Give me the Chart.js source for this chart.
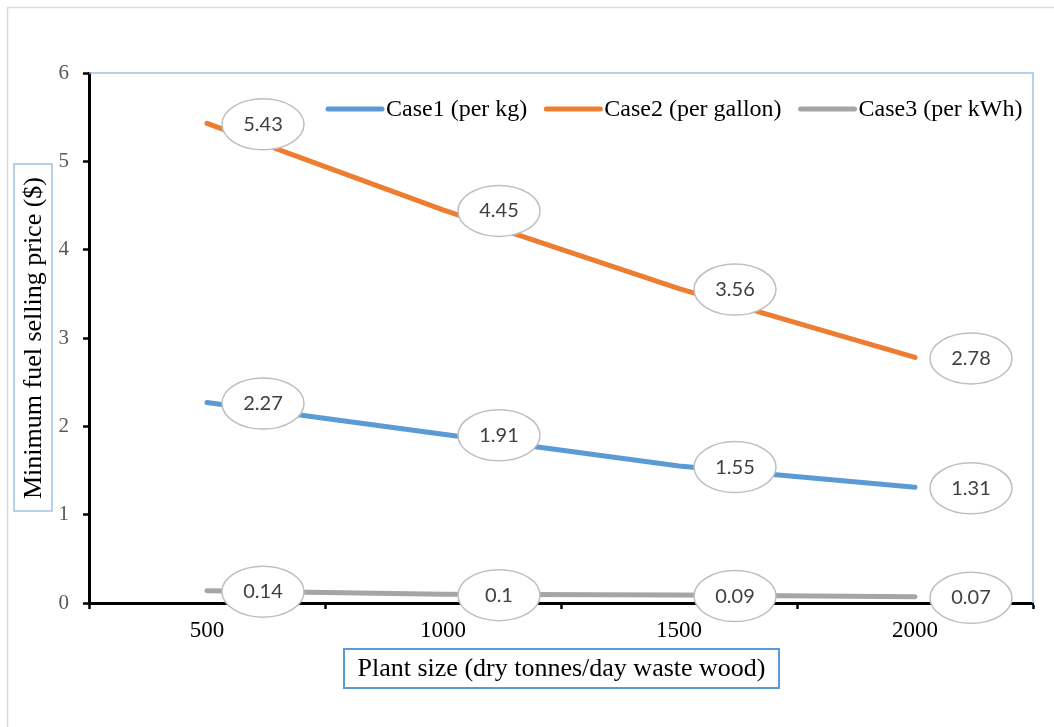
<!DOCTYPE html>
<html>
<head>
<meta charset="utf-8">
<style>
  html, body { margin: 0; padding: 0; background: #ffffff; }
  #wrap { width: 1054px; height: 727px; }
</style>
<script src="https://cdn.jsdelivr.net/npm/chart.js@4.4.1/dist/chart.umd.min.js"></script>
</head>
<body>
<div id="wrap"><canvas id="c" width="1054" height="727"></canvas></div>
<script>
// Plant sizes (dry tonnes/day) and minimum fuel selling prices ($)
const categories = ['500', '1000', '1500', '2000'];
const case1PerKg = [2.27, 1.91, 1.55, 1.31];
const case2PerGallon = [5.43, 4.45, 3.56, 2.78];
const case3PerKWh = [0.14, 0.1, 0.09, 0.07];
const seriesNames = ['Case1 (per kg)', 'Case2 (per gallon)', 'Case3 (per kWh)'];
const yMin = 0, yMax = 6, yStep = 1;
const xTitle = 'Plant size (dry tonnes/day waste wood)';
const yTitle = 'Minimum fuel selling price ($)';

const COLORS = ['#5b9bd5', '#ed7d31', '#a5a5a5'];
const SERIF = '"Liberation Serif", "Times New Roman", serif';
const LABEL_FONT = 'Lato, "Open Sans", sans-serif';

function lineDataset(label, data, color) {
  return {
    label, data,
    borderColor: color, backgroundColor: color,
    borderWidth: 5, borderCapStyle: 'round', borderJoinStyle: 'round',
    pointRadius: 0, pointHoverRadius: 0, tension: 0, fill: false
  };
}

// Frame, plot-area edges, ellipse value labels, legend and axis titles
const decor = {
  id: 'decor',
  beforeDraw(chart) {
    const ctx = chart.ctx;
    ctx.save();
    ctx.fillStyle = '#ffffff';
    ctx.fillRect(0, 0, chart.width, chart.height);
    ctx.strokeStyle = '#d9d9d9';
    ctx.lineWidth = 1.5;
    ctx.strokeRect(7.5, 7.5, chart.width + 20, chart.height + 20);
    ctx.restore();
  },
  beforeDatasetsDraw(chart) {
    const { ctx, chartArea: a } = chart;
    ctx.save();
    ctx.strokeStyle = '#9dc3e6';
    ctx.lineWidth = 1.5;
    ctx.beginPath();
    ctx.moveTo(a.left, a.top);
    ctx.lineTo(a.right, a.top);
    ctx.lineTo(a.right, a.bottom);
    ctx.stroke();
    ctx.restore();
  },
  afterDatasetsDraw(chart) {
    const ctx = chart.ctx;
    ctx.save();

    // value labels in ellipses, to the right of each point
    chart.data.datasets.forEach((ds, di) => {
      const meta = chart.getDatasetMeta(di);
      meta.data.forEach((pt, i) => {
        const cx = pt.x + 56, cy = pt.y + 1;
        ctx.beginPath();
        ctx.ellipse(cx, cy, 41, 25.5, 0, 0, Math.PI * 2);
        ctx.fillStyle = '#ffffff';
        ctx.fill();
        ctx.strokeStyle = '#bfbfbf';
        ctx.lineWidth = 1.5;
        ctx.stroke();
        ctx.fillStyle = '#404040';
        ctx.font = '20px ' + LABEL_FONT;
        ctx.textAlign = 'center';
        ctx.textBaseline = 'middle';
        ctx.fillText(String(ds.data[i]), cx, cy);
      });
    });

    // legend
    let x = 328;
    const ly = 109;
    ctx.font = '24px ' + SERIF;
    ctx.textBaseline = 'middle';
    ctx.textAlign = 'left';
    chart.data.datasets.forEach((ds) => {
      ctx.strokeStyle = ds.borderColor;
      ctx.lineWidth = 5;
      ctx.lineCap = 'round';
      ctx.beginPath();
      ctx.moveTo(x, ly);
      ctx.lineTo(x + 54, ly);
      ctx.stroke();
      ctx.fillStyle = '#000000';
      ctx.fillText(ds.label, x + 58, ly + 1);
      x += 58 + ctx.measureText(ds.label).width + 19;
    });

    // x-axis title in a box
    ctx.font = '26px ' + SERIF;
    ctx.textAlign = 'center';
    ctx.textBaseline = 'middle';
    ctx.strokeStyle = '#5b9bd5';
    ctx.lineWidth = 2;
    ctx.strokeRect(344, 649, 435, 39);
    ctx.fillStyle = '#000000';
    ctx.fillText(xTitle, 561.5, 669);

    // y-axis title in a box
    ctx.strokeStyle = '#9dc3e6';
    ctx.lineWidth = 1.5;
    ctx.strokeRect(14, 164, 38, 347);
    ctx.translate(34, 338);
    ctx.rotate(-Math.PI / 2);
    ctx.fillText(yTitle, 0, 0);
    ctx.restore();
  }
};

new Chart(document.getElementById('c'), {
  type: 'line',
  data: {
    labels: categories,
    datasets: [
      lineDataset(seriesNames[0], case1PerKg, COLORS[0]),
      lineDataset(seriesNames[1], case2PerGallon, COLORS[1]),
      lineDataset(seriesNames[2], case3PerKWh, COLORS[2])
    ]
  },
  options: {
    responsive: false,
    devicePixelRatio: 1,
    animation: false,
    layout: { padding: { top: 73, right: 21, left: 0, bottom: 0 } },
    plugins: { legend: { display: false }, tooltip: { enabled: false }, title: { display: false } },
    scales: {
      x: {
        type: 'category',
        offset: true,
        grid: { offset: true, drawOnChartArea: false, drawTicks: true, tickLength: 6, tickColor: '#000000', tickWidth: 2.5 },
        border: { display: true, color: '#000000', width: 3 },
        ticks: { color: '#000000', font: { family: SERIF, size: 23 }, padding: 8, maxRotation: 0 },
        afterFit(scale) { scale.height = 124; }
      },
      y: {
        min: yMin, max: yMax,
        grid: { drawOnChartArea: false, drawTicks: true, tickLength: 6, tickColor: '#000000', tickWidth: 2.5 },
        border: { display: true, color: '#000000', width: 3 },
        ticks: { stepSize: yStep, color: '#595959', font: { family: SERIF, size: 21 }, padding: 14 },
        afterFit(scale) { scale.width = 89; }
      }
    }
  },
  plugins: [decor]
});
</script>
</body>
</html>
